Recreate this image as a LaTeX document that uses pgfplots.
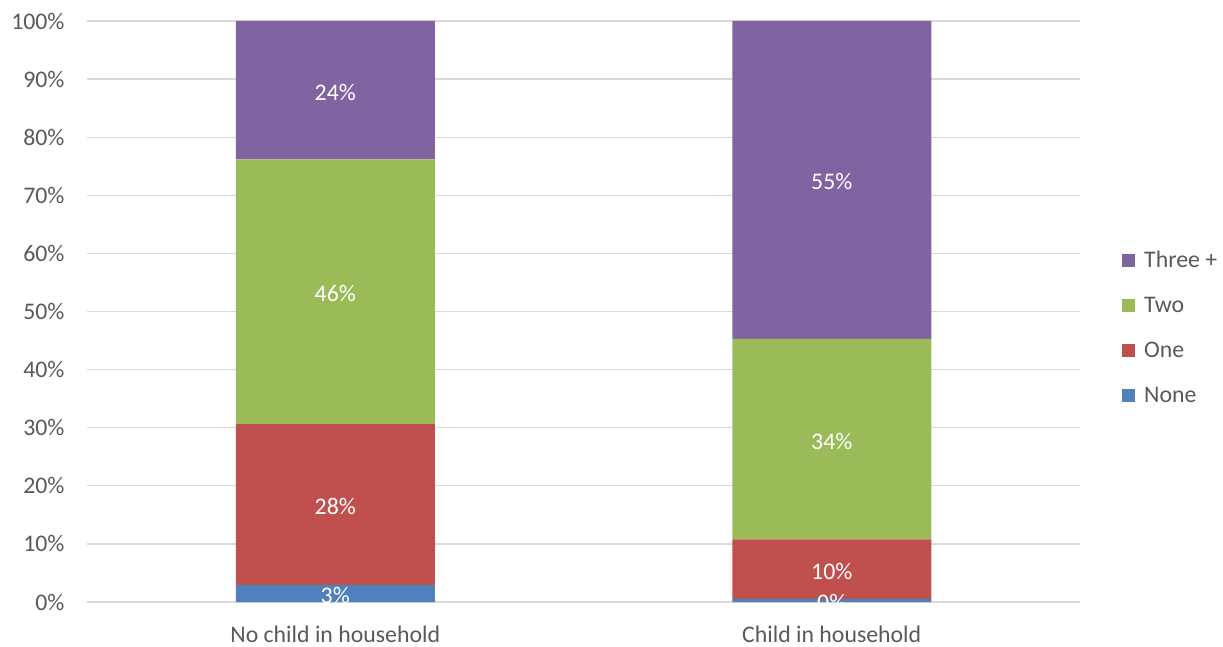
\documentclass[border=0pt]{standalone}
\usepackage{fontspec}
\setmainfont{Carlito}
\usepackage{pgfplots}
\pgfplotsset{compat=1.18}
\definecolor{cNone}{HTML}{4F81BD}
\definecolor{cOne}{HTML}{C0504D}
\definecolor{cTwo}{HTML}{9BBB59}
\definecolor{cThree}{HTML}{8064A2}
\definecolor{gridgray}{HTML}{D9D9D9}
\definecolor{txtgray}{HTML}{595959}
\newcommand{\fs}{\fontsize{23.8pt}{28pt}\selectfont}
\begin{document}
\begin{tikzpicture}
\useasboundingbox (0pt,0pt) rectangle (1223pt,646pt);
\begin{axis}[
  at={(87pt,44pt)}, anchor=south west,
  scale only axis, width=993pt, height=581pt,
  ybar stacked, bar width=199pt,
  xmin=-0.5, xmax=1.5, ymin=0, ymax=100,
  xtick={0,1}, xticklabels={No child in household, Child in household},
  ytick={0,10,...,100},
  yticklabel={\pgfmathprintnumber{\tick}\%},
  /pgf/number format/assume math mode=true,
  ymajorgrids, grid style={draw=gridgray, line width=1.3pt},
  axis line style={draw=none}, tick style={draw=none},
  ticklabel style={font=\fs, text=txtgray},
  yticklabel style={xshift=-19pt},
  xticklabel style={yshift=-20pt},
  legend style={at={(1.0423,0.4725)}, anchor=west, draw=none, fill=none,
    font=\fs, text=txtgray, row sep=24pt, inner sep=0pt,
    /tikz/every even column/.append style={column sep=0pt}},
  legend cell align=left,
  reverse legend,
  legend image code/.code={\fill[#1] (0pt,-6.5pt) rectangle (13pt,6.5pt); \path (20pt,0pt);},
]
\addplot[fill=cNone, draw=none] coordinates {(0,2.9) (1,0.5)};
\addlegendentry{None}
\addplot[fill=cOne, draw=none] coordinates {(0,27.7) (1,10.3)};
\addlegendentry{One}
\addplot[fill=cTwo, draw=none] coordinates {(0,45.6) (1,34.5)};
\addlegendentry{Two}
\addplot[fill=cThree, draw=none] coordinates {(0,23.8) (1,54.7)};
\addlegendentry{Three +}
\end{axis}
\begin{axis}[
  at={(87pt,44pt)}, anchor=south west,
  scale only axis, width=993pt, height=581pt,
  xmin=-0.5, xmax=1.5, ymin=0, ymax=100, hide axis,
]
\addplot[draw=none, mark=none, nodes near coords={\pgfmathprintnumber{\pgfplotspointmeta}\%},
  point meta=explicit,
  nodes near coords style={anchor=center, yshift=-2pt, text=white, font=\fs, /pgf/number format/assume math mode=true}]
  table[meta=lab] {
x y lab
0 1.45 3
0 16.75 28
0 53.4 46
0 88.1 24
1 0.25 0
1 5.65 10
1 28.05 34
1 72.65 55
};
\end{axis}
\end{tikzpicture}
\end{document}
